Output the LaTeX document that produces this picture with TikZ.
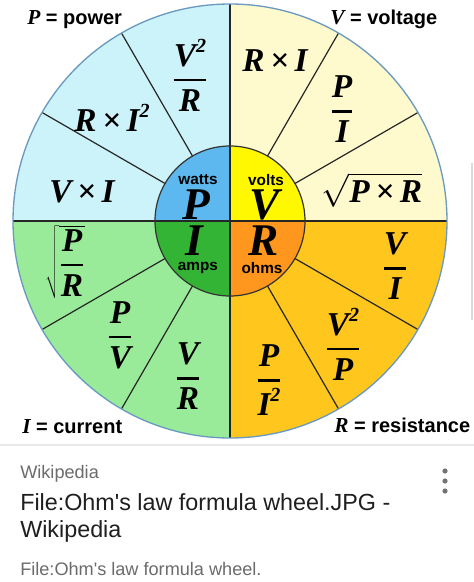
\documentclass[tikz,border=0pt]{standalone}
\usepackage{fontspec}
\setmainfont{Liberation Serif}
\setsansfont{Liberation Sans}
\usepackage{xcolor}
\usetikzlibrary{positioning}

\definecolor{powerlight}{RGB}{204,242,250}
\definecolor{powerdark}{RGB}{92,184,238}
\definecolor{voltlight}{RGB}{255,250,206}
\definecolor{voltdark}{RGB}{255,248,0}
\definecolor{currlight}{RGB}{153,235,153}
\definecolor{currdark}{RGB}{52,180,52}
\definecolor{resilight}{RGB}{255,198,30}
\definecolor{residark}{RGB}{255,150,30}
\definecolor{rimblue}{RGB}{106,154,192}

\newcommand{\wfrac}[2]{$\displaystyle{\hbox{#1}\above 1.7pt\hbox{#2}}$}
\newcommand{\wroot}[1]{$\sqrt{#1}$}
\newcommand{\sqr}{\raisebox{.42em}{\fontsize{15}{15}\selectfont 2}}

\begin{document}
\begin{tikzpicture}[x=0.75pt, y=0.75pt, every node/.style={inner sep=0pt}]
  \tikzstyle{formula} = [font=\fontsize{25}{28}\selectfont\bfseries\itshape]
  \tikzstyle{letter} = [font=\fontsize{34}{36}\selectfont\bfseries\itshape]
  \tikzstyle{unit} = [font=\fontsize{11.5}{12}\selectfont\sffamily\bfseries]
  \tikzstyle{legend} = [anchor=base west, font=\fontsize{15}{18}\selectfont\sffamily\bfseries]
  \tikzstyle{divider} = [draw=black!85, line width=0.9pt]
  \tikzstyle{caption} = [anchor=base west, font=\fontsize{17.5}{20}\selectfont\sffamily, text=black!88]
  \tikzstyle{source} = [anchor=base west, font=\fontsize{13.6}{16}\selectfont\sffamily, text=black!58]

  \useasboundingbox (-230,-361) rectangle (244,221);
  \fill[white] (-230,-361) rectangle (244,221);

  % quadrants of the wheel
  \foreach \a/\lc/\dc in {90/powerlight/powerdark, 0/voltlight/voltdark, 180/currlight/currdark, 270/resilight/residark} {
    \fill[\lc] (0,0) -- (\a:217) arc[start angle=\a, delta angle=90, radius=217] -- cycle;
    \fill[\dc] (0,0) -- (\a:75) arc[start angle=\a, delta angle=90, radius=75] -- cycle;
  }
  % spokes
  \foreach \a in {30,60,120,150,210,240,300,330}
    \draw[divider] (\a:75) -- (\a:217);
  \draw[divider, line width=1.1pt] (-217,0) -- (217,0) (0,-217) -- (0,217);
  \draw[black!80, line width=0.9pt] (0,0) circle[radius=75];
  \draw[rimblue, line width=1pt] (0,0) circle[radius=217];

  % centre
  \node[unit] (watts) at (-32,41) {watts};
  \node[letter] (pw) at (-34,16) {P};
  \node[unit] (volts) at (36,41) {volts};
  \node[letter] (vt) at (35,16) {V};
  \node[letter] (cu) at (-36,-20) {I};
  \node[unit] (amps) at (-32,-47) {amps};
  \node[letter] (rs) at (34,-20) {R};
  \node[unit] (ohms) at (32,-47) {ohms};

  % power
  \node[formula] (pvr) at (-40,146) {\wfrac{V\sqr}{R}};
  \node[formula] (pri) at (-118,103) {R\,×\,I\sqr};
  \node[formula] (pvi) at (-148,29) {V\,×\,I};
  % voltage
  \node[formula] (vri) at (45,160) {R\,×\,I};
  \node[formula] (vpi) at (112,112) {\wfrac{P}{I}};
  \node[formula] (vpr) at (142,31) {\wroot{\hbox{P\,×\,R}}};
  % current
  \node[formula] (ipr) at (-165,-41) {\wroot{\displaystyle{\hbox{P}\above 1.7pt\hbox{R}}}};
  \node[formula] (ipv) at (-110,-114) {\wfrac{P}{V}};
  \node[formula] (ivr) at (-42,-155) {\wfrac{V}{R}};
  % resistance
  \node[formula] (rvi) at (165,-45) {\wfrac{V}{I}};
  \node[formula] (rvp) at (113,-123) {\wfrac{V\sqr}{P}};
  \node[formula] (rpi) at (39,-159) {\wfrac{P}{I\sqr}};

  % legends
  \node[legend] (power) at (-203,196) {{\rmfamily\itshape\fontsize{16}{18}\selectfont P} = power};
  \node[legend] (voltage) at (100,196) {{\rmfamily\itshape\fontsize{16}{18}\selectfont V} = voltage};
  \node[legend] (current) at (-208,-212) {{\rmfamily\itshape\fontsize{16}{18}\selectfont I} = current};
  \node[legend] (resistance) at (104,-211) {{\rmfamily\itshape\fontsize{16}{18}\selectfont R} = resistance};

  % screenshot frame
  \draw[black!9, line width=1pt] (-230,-224) -- (244,-224);
  \draw[black!14, line width=1.2pt] (242,58) -- (242,-99);

  % caption
  \node[source] (site) at (-210,-257) {Wikipedia};
  \node[caption] (title) at (-210,-289) {File:Ohm\textquotesingle s law formula wheel.JPG -};
  \node[caption] (title2) at (-210,-316) {Wikipedia};
  \node[source] (snippet) at (-210,-354) {File:Ohm\textquotesingle s law formula wheel.};
  \foreach \y in {-250,-260,-270}
    \fill[black!55] (215,\y) circle[radius=2.6];
\end{tikzpicture}
\end{document}
